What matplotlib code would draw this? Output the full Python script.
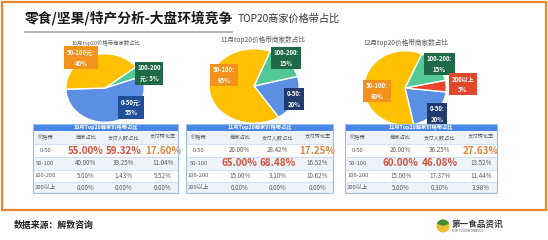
import numpy as np
import matplotlib
matplotlib.use("Agg")
import matplotlib.pyplot as plt
from matplotlib.patches import Rectangle, Circle, Wedge

plt.rcParams['font.family'] = ['Noto Sans CJK SC', 'DejaVu Sans']

W, H = 548, 240

# ---------- data ----------
bands = ["0-50", "50-100", "100-200", "200以上"]
columns = ["价格带", "商家占比", "支付人数占比", "支付转化率"]
months = ["10月", "11月", "12月"]

shop_share = [[55.00, 40.00, 5.00, 0.00],
              [20.00, 65.00, 15.00, 0.00],
              [20.00, 60.00, 15.00, 5.00]]
pay_share = [[59.32, 39.25, 1.43, 0.00],
             [28.42, 68.48, 3.10, 0.00],
             [36.25, 46.08, 17.37, 0.30]]
conv_rate = [[17.60, 11.04, 5.52, 0.00],
             [17.25, 16.52, 10.62, 0.00],
             [27.63, 13.52, 11.44, 3.98]]

pie_labels = [["0-50元:\n55%", "50-100元:\n40%", "100-200\n元: 5%", None],
              ["0-50:\n20%", "50-100:\n65%", "100-200:\n15%", None],
              ["0-50:\n20%", "50-100:\n60%", "100-200:\n15%", "200以上\n5%"]]

# ---------- styles / layout ----------
pie_colors = {"0-50": "#5B8FE4", "50-100": "#FFC000", "100-200": "#52C897", "200以上": "#E8462C"}
box_colors = {"0-50": "#22396E", "50-100": "#F2921D", "100-200": "#1E6A47", "200以上": "#E0472B"}
pie_order = [0, 3, 2, 1]   # counter-clockwise drawing order

panels = [
    dict(cx=105, cy=88, rx=40, ry=35, start=182, title=(106, 43, 'center', 3.9), table=(33, 178),
         boxes={0: (131, 107.5), 1: (81, 58), 2: (149, 73)}, navy0="#1F4E9A"),
    dict(cx=254, cy=86, rx=46, ry=38, start=-57, title=(263, 40, 'center', 4.8), table=(186, 333),
         boxes={0: (294, 99), 1: (224, 75), 2: (286, 58)}, navy0="#22396E"),
    dict(cx=405, cy=88, rx=42, ry=38, start=-78, title=(363, 43, 'left', 4.8), table=(345, 497),
         boxes={0: (437, 114), 1: (377, 91), 2: (439.5, 64), 3: (463, 84)}, navy0="#22396E"),
]

fig = plt.figure(figsize=(W / 100, H / 100), dpi=100, facecolor="white")

# background layer
bg = fig.add_axes([0, 0, 1, 1])
bg.set_xlim(0, W)
bg.set_ylim(H, 0)
bg.set_axis_off()
bg.add_patch(Rectangle((2, 1.5), 544, 208.5, fill=False, ec="#E8872F", lw=1.6))
bg.text(25, 18, "零食/坚果/特产分析-大盘环境竞争", fontsize=9.9, fontweight="bold",
        color="#1A1A1A", va="center", ha="left")
bg.text(238, 18.5, "TOP20商家价格带占比", fontsize=7.3, color="#333333", va="center", ha="left")
bg.plot([25, 232], [32, 32], color="#A6A6A6", lw=1.2)

# pies
for k, p in enumerate(panels):
    ax = fig.add_axes([(p["cx"] - p["rx"]) / W, 1 - (p["cy"] + p["ry"]) / H,
                       2 * p["rx"] / W, 2 * p["ry"] / H])
    vals, cols = [], []
    for i in pie_order:
        if shop_share[k][i] > 0:
            vals.append(shop_share[k][i])
            cols.append(pie_colors[bands[i]])
    ax.pie(vals, colors=cols, startangle=p["start"], counterclock=True,
           wedgeprops=dict(edgecolor="white", linewidth=1.0))
    ax.set_aspect("auto")
    ax.set_xlim(-1.02, 1.02)
    ax.set_ylim(-1.02, 1.02)
    ax.set_axis_off()

# overlay layer
ov = fig.add_axes([0, 0, 1, 1])
ov.set_xlim(0, W)
ov.set_ylim(H, 0)
ov.set_axis_off()
ov.patch.set_alpha(0)

row_h = [7, 13, 13, 12.5, 12.5, 11]
col_fx = [0.085, 0.365, 0.625, 0.895]

for k, p in enumerate(panels):
    tx, ty, tha, tfs = p["title"]
    ov.text(tx, ty, f"{months[k]}top20价格带商家数占比", fontsize=tfs, color="#595959",
            ha=tha, va="center")
    for i, (bx, by) in p["boxes"].items():
        fc = p["navy0"] if i == 0 else box_colors[bands[i]]
        ov.text(bx, by, pie_labels[k][i], fontsize=4.3, fontweight="bold", color="white",
                ha="center", va="center", linespacing=1.6,
                bbox=dict(boxstyle="square,pad=0.45", fc=fc, ec="none"))

    # table
    x0, x1 = p["table"]
    w = x1 - x0
    y = 124
    ov.add_patch(Rectangle((x0, y), w, row_h[0], fc="#4A86E8", ec="none", zorder=2))
    ov.text(x0 + w / 2, y + row_h[0] / 2, f"{months[k]}Top20商家价格带占比", fontsize=3.8,
            fontweight="bold", color="white", ha="center", va="center", zorder=3)
    y += row_h[0]
    ov.add_patch(Rectangle((x0, y), w, row_h[1], fc="#EEF3FB", ec="none", zorder=2))
    for c, name in enumerate(columns):
        ov.text(x0 + col_fx[c] * w, y + row_h[1] / 2, name, fontsize=3.8, color="#595959",
                ha="center", va="center", zorder=3)
    y += row_h[1]
    cols_data = [shop_share[k], pay_share[k], conv_rate[k]]
    best = [int(np.argmax(cd)) for cd in cols_data]
    for r, band in enumerate(bands):
        h = row_h[2 + r]
        fc = "white" if r % 2 == 0 else "#EEF3FB"
        ov.add_patch(Rectangle((x0, y), w, h, fc=fc, ec="none", zorder=2))
        ov.plot([x0, x1], [y, y], color="#C5D5EE", lw=0.5, zorder=3)
        ov.text(x0 + col_fx[0] * w, y + h / 2, band, fontsize=4.2, color="#595959",
                ha="center", va="center", zorder=3)
        for c, cd in enumerate(cols_data):
            txt = f"{cd[r]:.2f}%"
            if best[c] == r:
                color = "#E0843A" if c == 2 else "#D4503A"
                ov.text(x0 + col_fx[c + 1] * w, y + h / 2, txt, fontsize=7.1, fontweight="bold",
                        color=color, ha="center", va="center", zorder=3)
            else:
                ov.text(x0 + col_fx[c + 1] * w, y + h / 2, txt, fontsize=4.5, color="#595959",
                        ha="center", va="center", zorder=3)
        y += h
    ov.add_patch(Rectangle((x0, 124), w, sum(row_h), fill=False, ec="#9DBCE8", lw=0.8, zorder=4))

# footer
ov.text(14, 225, "数据来源：解数咨询", fontsize=6.4, fontweight="bold", color="#222222",
        ha="left", va="center")
ov.add_patch(Circle((443, 226), 6.5, fc="#E8C02A", ec="none"))
ov.add_patch(Wedge((443, 226), 6.5, 200, 340, fc="#3E8E3A", ec="none"))
ov.text(452, 224.5, "第一食品资讯", fontsize=6.2, fontweight="bold", color="#3A3A3A",
        ha="left", va="center")
ov.text(452, 231.5, "FIRST FOOD INFORMATION", fontsize=1.8, color="#555555",
        ha="left", va="center")

fig.savefig("out.png", dpi=100, facecolor="white")
